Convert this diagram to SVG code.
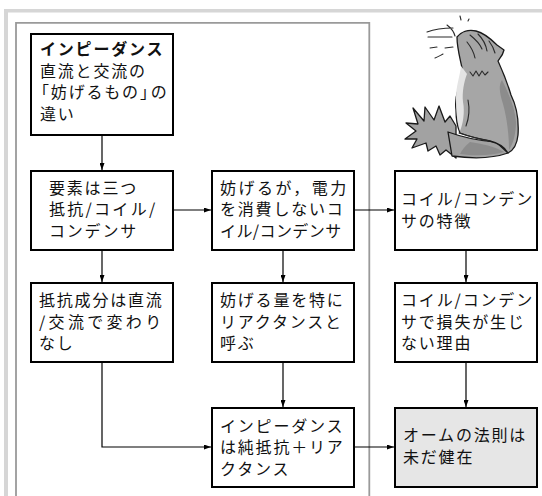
<svg xmlns="http://www.w3.org/2000/svg" width="542" height="496" viewBox="0 0 542 496">
  <defs>
    <style>
      .box { fill: #ffffff; stroke: #000000; stroke-width: 2; }
      .box.em { fill: #e6e6e6; }
      .t { font-family: "Noto Sans CJK JP", "Noto Sans", sans-serif; font-size: 16px; letter-spacing: 1.8px; fill: #111111; }
      .b { font-weight: bold; }
      .edge { fill: none; stroke: #000000; stroke-width: 1.2; marker-end: url(#arr); }
      .cat { stroke: #1a1a1a; stroke-width: 1.3; stroke-linejoin: round; stroke-linecap: round; }
      .fur { fill: none; stroke: #2a2a2a; stroke-width: 1.1; stroke-linecap: round; stroke-linejoin: round; }
    </style>
    <marker id="arr" viewBox="0 0 7 5" refX="7" refY="2.5" markerWidth="7" markerHeight="5" markerUnits="userSpaceOnUse" orient="auto">
      <path d="M0,0 L7,2.5 L0,5 Z" fill="#000000"/>
    </marker>
  </defs>

  <rect width="542" height="496" fill="#ffffff"/>

  <!-- page frame -->
  <g id="frame">
    <rect x="4" y="9" width="538" height="3.5" fill="#d6d6d6"/>
    <rect x="4" y="9" width="4" height="487" fill="#d6d6d6"/>
    <path d="M16,500 V22.8 H369.3 V500" fill="none" stroke="#9a9a9a" stroke-width="1.8"/>
  </g>

  <!-- cat illustration -->
  <g id="cat">
    <!-- tail tuft -->
    <path class="cat" fill="#a2a2a2" d="M456,126 L450,116 L445,122 L439,106 L434,120 L425,107 L424,121 L413,108 L418,124 L406,123 L416,131 L405,139 L417,139 L412,148 L426,143 L428,151 L436,146 L440,155 L446,150 L456,158 Z"/>
    <!-- tail -->
    <path class="cat" fill="#a2a2a2" d="M448,132 C462,137 478,141 496,142 L508,153 C494,158 474,159 452,156 Z"/>
    <!-- body and head -->
    <path class="cat" fill="#a6a6a6" d="M457,37 C461,32 468,29 476,31 C484,33 492,40 497,45 L504,50 C503,55 500,58 498,61 C503,72 508,85 511,95 C516,105 519,120 518,135 C517,145 514,150 508,153 C504,146 498,143 490,141 C480,139 468,136 460,133 C457,126 456,118 456,110 C455,102 456,96 458,90 C461,82 463,74 462,68 C460,58 457,48 457,37 Z"/>
    <!-- light chest and leg -->
    <path fill="#e4e4e4" d="M461,66 C460,76 456,86 456,98 C456,110 457,122 460,131 C463,124 465,112 463,102 C462,92 464,82 467,74 Z"/>
    <!-- shading on back -->
    <path fill="#8c8c8c" d="M502,80 C509,94 515,108 516,122 C516,134 513,144 509,150 C509,136 507,118 503,104 C500,94 498,86 502,80 Z"/>
    <path fill="#8c8c8c" d="M470,142 C482,144 494,146 504,152 C490,156 474,156 460,154 C462,150 465,146 470,142 Z"/>
    <!-- fur, mouth and leg lines -->
    <path class="fur" d="M467,42 C471,47 474,53 475,58 M470,35 C475,39 480,44 482,49 M478,34 C483,39 486,45 487,51 M489,41 C492,45 494,49 495,53"/>
    <path class="fur" d="M470,72 L473,76 L476,71 L479,76 L482,71 L485,75 L488,72"/>
    <path class="fur" d="M466,126 C469,118 470,110 468,100 M459,133 C468,136 478,139 490,141"/>
    <!-- noise marks -->
    <path class="fur" d="M427,32 C435,29 444,28 453,28 M428,37 C436,37 444,37 452,37 M430,48 L437,47 M435,58 C438,57 441,55 443,54 M445,48 L453,47 M447,25 C451,28 454,32 455,36 M460,16 L461,20 M469,19 L468,21"/>
  </g>

  <!-- connectors -->
  <g id="connectors">
    <path class="edge" d="M102,136 V170"/>
    <path class="edge" d="M174,210 H211"/>
    <path class="edge" d="M355,210 H394"/>
    <path class="edge" d="M102,251 V282"/>
    <path class="edge" d="M283,251 V282"/>
    <path class="edge" d="M466,251 V282"/>
    <path class="edge" d="M102,363 V447 H211"/>
    <path class="edge" d="M283,363 V407"/>
    <path class="edge" d="M466,363 V407"/>
    <path class="edge" d="M355,447 H394"/>
  </g>

  <!-- nodes -->
  <g id="node-impedance">
    <rect class="box" x="31" y="34" width="142" height="101"/>
    <text class="t b" x="40" y="55">インピーダンス</text>
    <text class="t" x="40" y="76.7">直流と交流の</text>
    <text class="t" x="33" y="98.4" letter-spacing="1.5" dx="0 0 0 0 0 0 0 -7">「妨げるもの」の</text>
    <text class="t" x="40" y="120">違い</text>
  </g>

  <g id="node-elements">
    <rect class="box" x="31" y="171" width="142" height="79"/>
    <text class="t" x="49" y="193.5">要素は三つ</text>
    <text class="t" x="49" y="215.2" textLength="108" lengthAdjust="spacing">抵抗/コイル/</text>
    <text class="t" x="49" y="236.9">コンデンサ</text>
  </g>

  <g id="node-no-consume">
    <rect class="box" x="212" y="171" width="142" height="79"/>
    <text class="t" x="220" y="193.5" textLength="128" lengthAdjust="spacing">妨げるが，電力</text>
    <text class="t" x="220" y="215.2">を消費しないコ</text>
    <text class="t" x="220" y="236.9" textLength="123" lengthAdjust="spacing">イル/コンデンサ</text>
  </g>

  <g id="node-features">
    <rect class="box" x="395" y="171" width="142" height="79"/>
    <text class="t" x="401" y="205" textLength="133" lengthAdjust="spacing">コイル/コンデン</text>
    <text class="t" x="401" y="226.7">サの特徴</text>
  </g>

  <g id="node-resistance">
    <rect class="box" x="31" y="283" width="142" height="79"/>
    <text class="t" x="39" y="306">抵抗成分は直流</text>
    <text class="t" x="39" y="327.7" textLength="124" lengthAdjust="spacing">/交流で変わり</text>
    <text class="t" x="39" y="349.4">なし</text>
  </g>

  <g id="node-reactance">
    <rect class="box" x="212" y="283" width="142" height="79"/>
    <text class="t" x="220" y="306">妨げる量を特に</text>
    <text class="t" x="220" y="327.7">リアクタンスと</text>
    <text class="t" x="220" y="349.4">呼ぶ</text>
  </g>

  <g id="node-no-loss">
    <rect class="box" x="395" y="283" width="142" height="79"/>
    <text class="t" x="401" y="306" textLength="133" lengthAdjust="spacing">コイル/コンデン</text>
    <text class="t" x="401" y="327.7">サで損失が生じ</text>
    <text class="t" x="401" y="349.4">ない理由</text>
  </g>

  <g id="node-sum">
    <rect class="box" x="212" y="408" width="142" height="79"/>
    <text class="t" x="220" y="431.5">インピーダンス</text>
    <text class="t" x="220" y="453.2">は純抵抗＋リア</text>
    <text class="t" x="220" y="474.9">クタンス</text>
  </g>

  <g id="node-ohm">
    <rect class="box em" x="395" y="408" width="142" height="79"/>
    <text class="t" x="403" y="441">オームの法則は</text>
    <text class="t" x="403" y="462.7">未だ健在</text>
  </g>
</svg>
